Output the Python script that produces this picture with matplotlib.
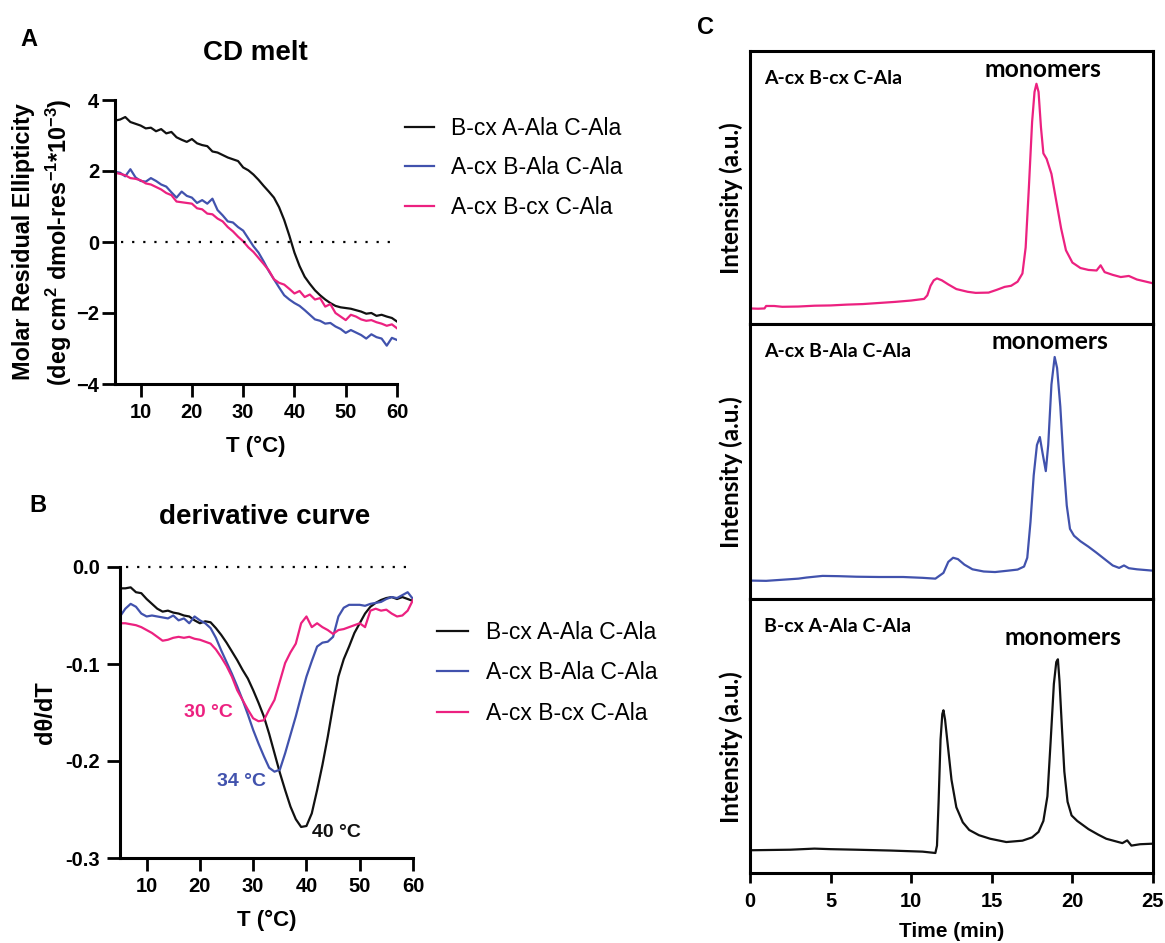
import matplotlib
matplotlib.use("Agg")
import matplotlib.pyplot as plt
import numpy as np

plt.rcParams['font.family'] = ['Liberation Sans', 'DejaVu Sans']
plt.rcParams['mathtext.default'] = 'regular'

W, H = 1165, 943

# --- data -------------------------------------------------------------
names = ["B-cx A-Ala C-Ala", "A-cx B-Ala C-Ala", "A-cx B-cx C-Ala"]
colors = ["#111111", "#4152ad", "#ec2180"]

temp = np.arange(5, 61)

melt_black = [3.42, 3.45, 3.52, 3.38, 3.33, 3.28, 3.20, 3.22, 3.12, 3.18, 3.06, 3.10, 2.95, 2.88,
              2.82, 2.90, 2.78, 2.73, 2.70, 2.55, 2.52, 2.45, 2.38, 2.33, 2.28, 2.10, 2.02, 1.90,
              1.75, 1.58, 1.42, 1.25, 0.98, 0.62, 0.18, -0.30, -0.68, -0.98, -1.18, -1.36, -1.50,
              -1.62, -1.72, -1.80, -1.84, -1.86, -1.88, -1.92, -1.96, -2.02, -2.00, -2.08, -2.05,
              -2.10, -2.14, -2.24]
melt_blue = [1.98, 1.95, 1.85, 2.05, 1.82, 1.72, 1.70, 1.80, 1.72, 1.62, 1.56, 1.40, 1.25, 1.42,
             1.30, 1.25, 1.10, 1.18, 1.08, 1.22, 0.90, 0.75, 0.58, 0.55, 0.42, 0.32, 0.10, -0.12,
             -0.30, -0.55, -0.82, -1.05, -1.28, -1.50, -1.62, -1.72, -1.80, -1.92, -2.05, -2.18,
             -2.22, -2.30, -2.28, -2.38, -2.45, -2.56, -2.48, -2.55, -2.62, -2.72, -2.60, -2.68,
             -2.72, -2.92, -2.70, -2.76]
melt_pink = [1.95, 1.92, 1.88, 1.80, 1.78, 1.74, 1.65, 1.62, 1.55, 1.48, 1.38, 1.32, 1.14, 1.12,
             1.10, 1.08, 0.95, 0.92, 0.80, 0.78, 0.66, 0.58, 0.42, 0.30, 0.15, 0.02, -0.15, -0.28,
             -0.45, -0.62, -0.80, -1.05, -1.15, -1.20, -1.32, -1.45, -1.38, -1.55, -1.48, -1.62,
             -1.58, -1.82, -1.75, -2.00, -2.10, -2.20, -2.05, -2.10, -2.18, -2.22, -2.20, -2.26,
             -2.30, -2.36, -2.32, -2.43]

deriv_black = [-0.022, -0.022, -0.021, -0.026, -0.027, -0.033, -0.038, -0.043, -0.046, -0.045,
               -0.047, -0.048, -0.050, -0.051, -0.055, -0.058, -0.056, -0.057, -0.063, -0.070,
               -0.078, -0.087, -0.096, -0.106, -0.115, -0.127, -0.140, -0.154, -0.172, -0.192,
               -0.212, -0.230, -0.247, -0.260, -0.268, -0.267, -0.254, -0.230, -0.204, -0.175,
               -0.143, -0.113, -0.095, -0.082, -0.068, -0.058, -0.048, -0.041, -0.037, -0.034,
               -0.032, -0.031, -0.033, -0.031, -0.033, -0.035]
deriv_blue = [-0.051, -0.043, -0.038, -0.041, -0.048, -0.051, -0.050, -0.051, -0.052, -0.053,
              -0.050, -0.055, -0.053, -0.058, -0.051, -0.055, -0.058, -0.063, -0.073, -0.086,
              -0.098, -0.110, -0.123, -0.137, -0.152, -0.168, -0.182, -0.195, -0.207, -0.211,
              -0.209, -0.192, -0.173, -0.154, -0.133, -0.113, -0.097, -0.082, -0.078, -0.077,
              -0.072, -0.051, -0.042, -0.039, -0.039, -0.039, -0.040, -0.038, -0.037, -0.036,
              -0.033, -0.031, -0.032, -0.029, -0.026, -0.033]
deriv_pink = [-0.058, -0.058, -0.059, -0.060, -0.062, -0.065, -0.068, -0.072, -0.076, -0.075,
              -0.073, -0.072, -0.073, -0.072, -0.074, -0.075, -0.077, -0.079, -0.085, -0.093,
              -0.102, -0.113, -0.127, -0.137, -0.147, -0.156, -0.159, -0.158, -0.147, -0.137,
              -0.118, -0.099, -0.088, -0.079, -0.058, -0.051, -0.062, -0.058, -0.062, -0.065,
              -0.069, -0.065, -0.064, -0.062, -0.060, -0.058, -0.062, -0.045, -0.043, -0.045,
              -0.044, -0.048, -0.051, -0.050, -0.045, -0.034]

tm_labels = ["40 °C", "34 °C", "30 °C"]

# SEC traces (time in min, intensity in arbitrary units)
t_pink = [0, 0.5, 0.9, 1.0, 1.5, 2, 3, 4, 5, 6, 7, 8, 9, 10, 10.8, 11.0, 11.2, 11.4, 11.6, 11.9,
          12.3, 12.8, 13.5, 14, 14.8, 15.3, 15.8, 16.2, 16.6, 16.9, 17.1, 17.3, 17.5, 17.65, 17.77,
          17.9, 18.05, 18.2, 18.4, 18.7, 19.0, 19.3, 19.6, 20.0, 20.5, 21.0, 21.5, 21.75, 22.0,
          22.5, 23.0, 23.5, 24.0, 24.5, 25]
i_pink = [0.057, 0.056, 0.057, 0.066, 0.066, 0.063, 0.064, 0.067, 0.068, 0.071, 0.073, 0.077,
          0.081, 0.086, 0.092, 0.105, 0.140, 0.160, 0.167, 0.160, 0.145, 0.128, 0.118, 0.114,
          0.115, 0.125, 0.136, 0.140, 0.155, 0.185, 0.280, 0.500, 0.740, 0.850, 0.880, 0.850,
          0.720, 0.625, 0.605, 0.550, 0.450, 0.350, 0.270, 0.225, 0.205, 0.198, 0.196, 0.215,
          0.190, 0.180, 0.172, 0.176, 0.163, 0.156, 0.149]

t_blue = [0, 1, 2, 3, 3.5, 4.5, 5.5, 6.6, 8, 9.5, 10.7, 11.5, 12.0, 12.3, 12.6, 12.9, 13.3, 13.8,
          14.5, 15.2, 16.0, 16.6, 17.0, 17.2, 17.4, 17.6, 17.8, 17.98, 18.15, 18.35, 18.5, 18.7,
          18.9, 19.05, 19.25, 19.45, 19.65, 19.85, 20.1, 20.5, 21.0, 21.5, 22.0, 22.5, 22.9, 23.2,
          23.5, 24.0, 25]
i_blue = [0.067, 0.066, 0.070, 0.074, 0.078, 0.084, 0.083, 0.081, 0.080, 0.080, 0.077, 0.074,
          0.095, 0.135, 0.150, 0.145, 0.125, 0.108, 0.100, 0.098, 0.103, 0.107, 0.118, 0.150,
          0.280, 0.450, 0.560, 0.589, 0.530, 0.465, 0.560, 0.780, 0.880, 0.840, 0.700, 0.500,
          0.340, 0.255, 0.230, 0.210, 0.190, 0.168, 0.145, 0.122, 0.113, 0.122, 0.112, 0.108,
          0.103]

t_black = [0, 2.5, 4, 5, 6.6, 8.7, 10.7, 11.5, 11.6, 11.7, 11.82, 11.93, 12.0, 12.1, 12.3, 12.5,
           12.8, 13.2, 13.6, 14.2, 14.9, 15.9, 16.9, 17.5, 17.9, 18.2, 18.45, 18.65, 18.85, 19.0,
           19.1, 19.2, 19.35, 19.5, 19.7, 19.95, 20.3, 21.0, 21.6, 22.1, 23.1, 23.4, 23.66, 24.2, 25]
i_black = [0.083, 0.085, 0.089, 0.087, 0.085, 0.082, 0.078, 0.073, 0.100, 0.260, 0.487, 0.580,
           0.594, 0.560, 0.450, 0.340, 0.240, 0.185, 0.157, 0.138, 0.125, 0.113, 0.118, 0.130,
           0.150, 0.190, 0.280, 0.480, 0.690, 0.770, 0.780, 0.700, 0.530, 0.370, 0.260, 0.210,
           0.190, 0.160, 0.140, 0.125, 0.109, 0.119, 0.100, 0.105, 0.107]

sec_traces = [(t_pink, i_pink, colors[2], names[2]),
              (t_blue, i_blue, colors[1], names[1]),
              (t_black, i_black, colors[0], names[0])]


def rect(left, top, right, bottom):
    return [left / W, 1 - bottom / H, (right - left) / W, (bottom - top) / H]


def style_ax(ax):
    for s in ['top', 'right']:
        ax.spines[s].set_visible(False)
    for s in ['left', 'bottom']:
        ax.spines[s].set_linewidth(2.2)
    ax.tick_params(width=2.0, length=9.5, labelsize=14.5)
    ax.tick_params(axis='y', pad=2)
    ax.tick_params(axis='x', pad=4)
    for lab in ax.get_xticklabels() + ax.get_yticklabels():
        lab.set_fontweight('bold')


fig = plt.figure(figsize=(W / 100, H / 100), dpi=100)

# --- A: CD melt -------------------------------------------------------
axA = fig.add_axes(rect(115, 100, 397, 384))
for y, c, n in zip([melt_black, melt_blue, melt_pink], colors, names):
    axA.plot(temp, y, color=c, lw=1.6, label=n)
axA.axhline(0, color='black', lw=1.6, ls=(0, (1, 4)), xmin=0.02)
axA.set_xlim(5, 60)
axA.set_ylim(-4, 4)
axA.set_xticks([10, 20, 30, 40, 50, 60])
axA.set_yticks([-4, -2, 0, 2, 4])
style_ax(axA)
axA.set_xlabel("T (°C)", fontsize=16, fontweight='bold', labelpad=10)
fig.text(24 / W, 1 - 242 / H, "Molar Residual Ellipticity", rotation=90, fontsize=16.8,
         fontweight='bold', ha='center', va='center')
fig.text(59 / W, 1 - 242 / H, "(deg cm$^{2}$ dmol-res$^{-1}$*10$^{-3}$)", rotation=90,
         fontsize=16.8, fontweight='bold', ha='center', va='center')
fig.text(255 / W, 1 - 53 / H, "CD melt", fontsize=20, fontweight='bold', ha='center', va='center')
fig.text(29 / W, 1 - 40 / H, "A", fontsize=17, fontweight='bold', ha='center', va='center')
axA.legend(loc='upper left', bbox_to_anchor=(405 / W, 1 - 117 / H), bbox_transform=fig.transFigure,
           frameon=False, fontsize=16.5, handlelength=1.25, handletextpad=0.75, labelspacing=0.72,
           borderpad=0, borderaxespad=0)

# --- B: derivative curve ---------------------------------------------
axB = fig.add_axes(rect(120, 567, 413, 858))
for y, c, n in zip([deriv_black, deriv_blue, deriv_pink], colors, names):
    axB.plot(temp, y, color=c, lw=1.6, label=n)
axB.axhline(0, color='black', lw=1.6, ls=(0, (1, 4)), xmin=0.02, clip_on=False)
axB.set_xlim(5, 60)
axB.set_ylim(-0.3, 0.0)
axB.set_xticks([10, 20, 30, 40, 50, 60])
axB.set_yticks([-0.3, -0.2, -0.1, 0.0])
axB.set_yticklabels(["-0.3", "-0.2", "-0.1", "0.0"])
style_ax(axB)
axB.tick_params(axis='y', pad=5)
axB.set_xlabel("T (°C)", fontsize=16, fontweight='bold', labelpad=10)
axB.set_ylabel("dθ/dT", fontsize=17, fontweight='bold', labelpad=6)
fig.text(265 / W, 1 - 517 / H, "derivative curve", fontsize=20, fontweight='bold',
         ha='center', va='center')
fig.text(38 / W, 1 - 505 / H, "B", fontsize=17, fontweight='bold', ha='center', va='center')
axB.legend(loc='upper left', bbox_to_anchor=(437 / W, 1 - 621 / H), bbox_transform=fig.transFigure,
           frameon=False, fontsize=16.5, handlelength=1.35, handletextpad=0.8, labelspacing=0.76,
           borderpad=0, borderaxespad=0)

# Tm annotations, placed next to the minimum of each curve
for y, c, lab, dx, dy, ha in zip([deriv_black, deriv_blue, deriv_pink], colors, tm_labels,
                                 [2.0, -1.6, -4.8], [-0.006, -0.010, 0.0095],
                                 ['left', 'right', 'right']):
    k = int(np.argmin(y))
    axB.text(temp[k] + dx, y[k] + dy, lab, color=c, fontsize=14, fontweight='bold',
             ha=ha, va='center')

# --- C: SEC traces ----------------------------------------------------
fig.text(705 / W, 1 - 28 / H, "C", fontsize=17, fontweight='bold', ha='center', va='center')
boxes = [(51, 324), (324, 599), (599, 873)]
mono_pos = [(18.2, 0.934), (18.6, 0.935), (19.4, 0.861)]
for (top, bot), (t, inten, c, n), (mx, my) in zip(boxes, sec_traces, mono_pos):
    ax = fig.add_axes(rect(750, top, 1153, bot))
    ax.plot(t, inten, color=c, lw=1.6)
    ax.set_xlim(0, 25)
    ax.set_ylim(0, 1)
    ax.set_yticks([])
    for s in ax.spines.values():
        s.set_linewidth(2.2)
    ax.text(0.035, 0.90, n, transform=ax.transAxes, fontsize=14, fontweight='bold',
            family='Lato', ha='left', va='center')
    ax.text(mx, my, "monomers", fontsize=17.8, fontweight='bold', family='Lato',
            ha='center', va='center')
    ax.set_ylabel("Intensity (a.u.)", fontsize=17.5, fontweight='bold', family='Lato')
    ax.yaxis.set_label_coords(-0.018, 0.46)
    if bot == 873:
        ax.set_xticks([0, 5, 10, 15, 20, 25])
        ax.tick_params(axis='x', width=2.0, length=7.5, labelsize=14.5, pad=6)
        for lab in ax.get_xticklabels():
            lab.set_fontweight('bold')
        ax.set_xlabel("Time (min)", fontsize=15, fontweight='bold', labelpad=8)
    else:
        ax.set_xticks([])

fig.savefig("out.png", dpi=100)
